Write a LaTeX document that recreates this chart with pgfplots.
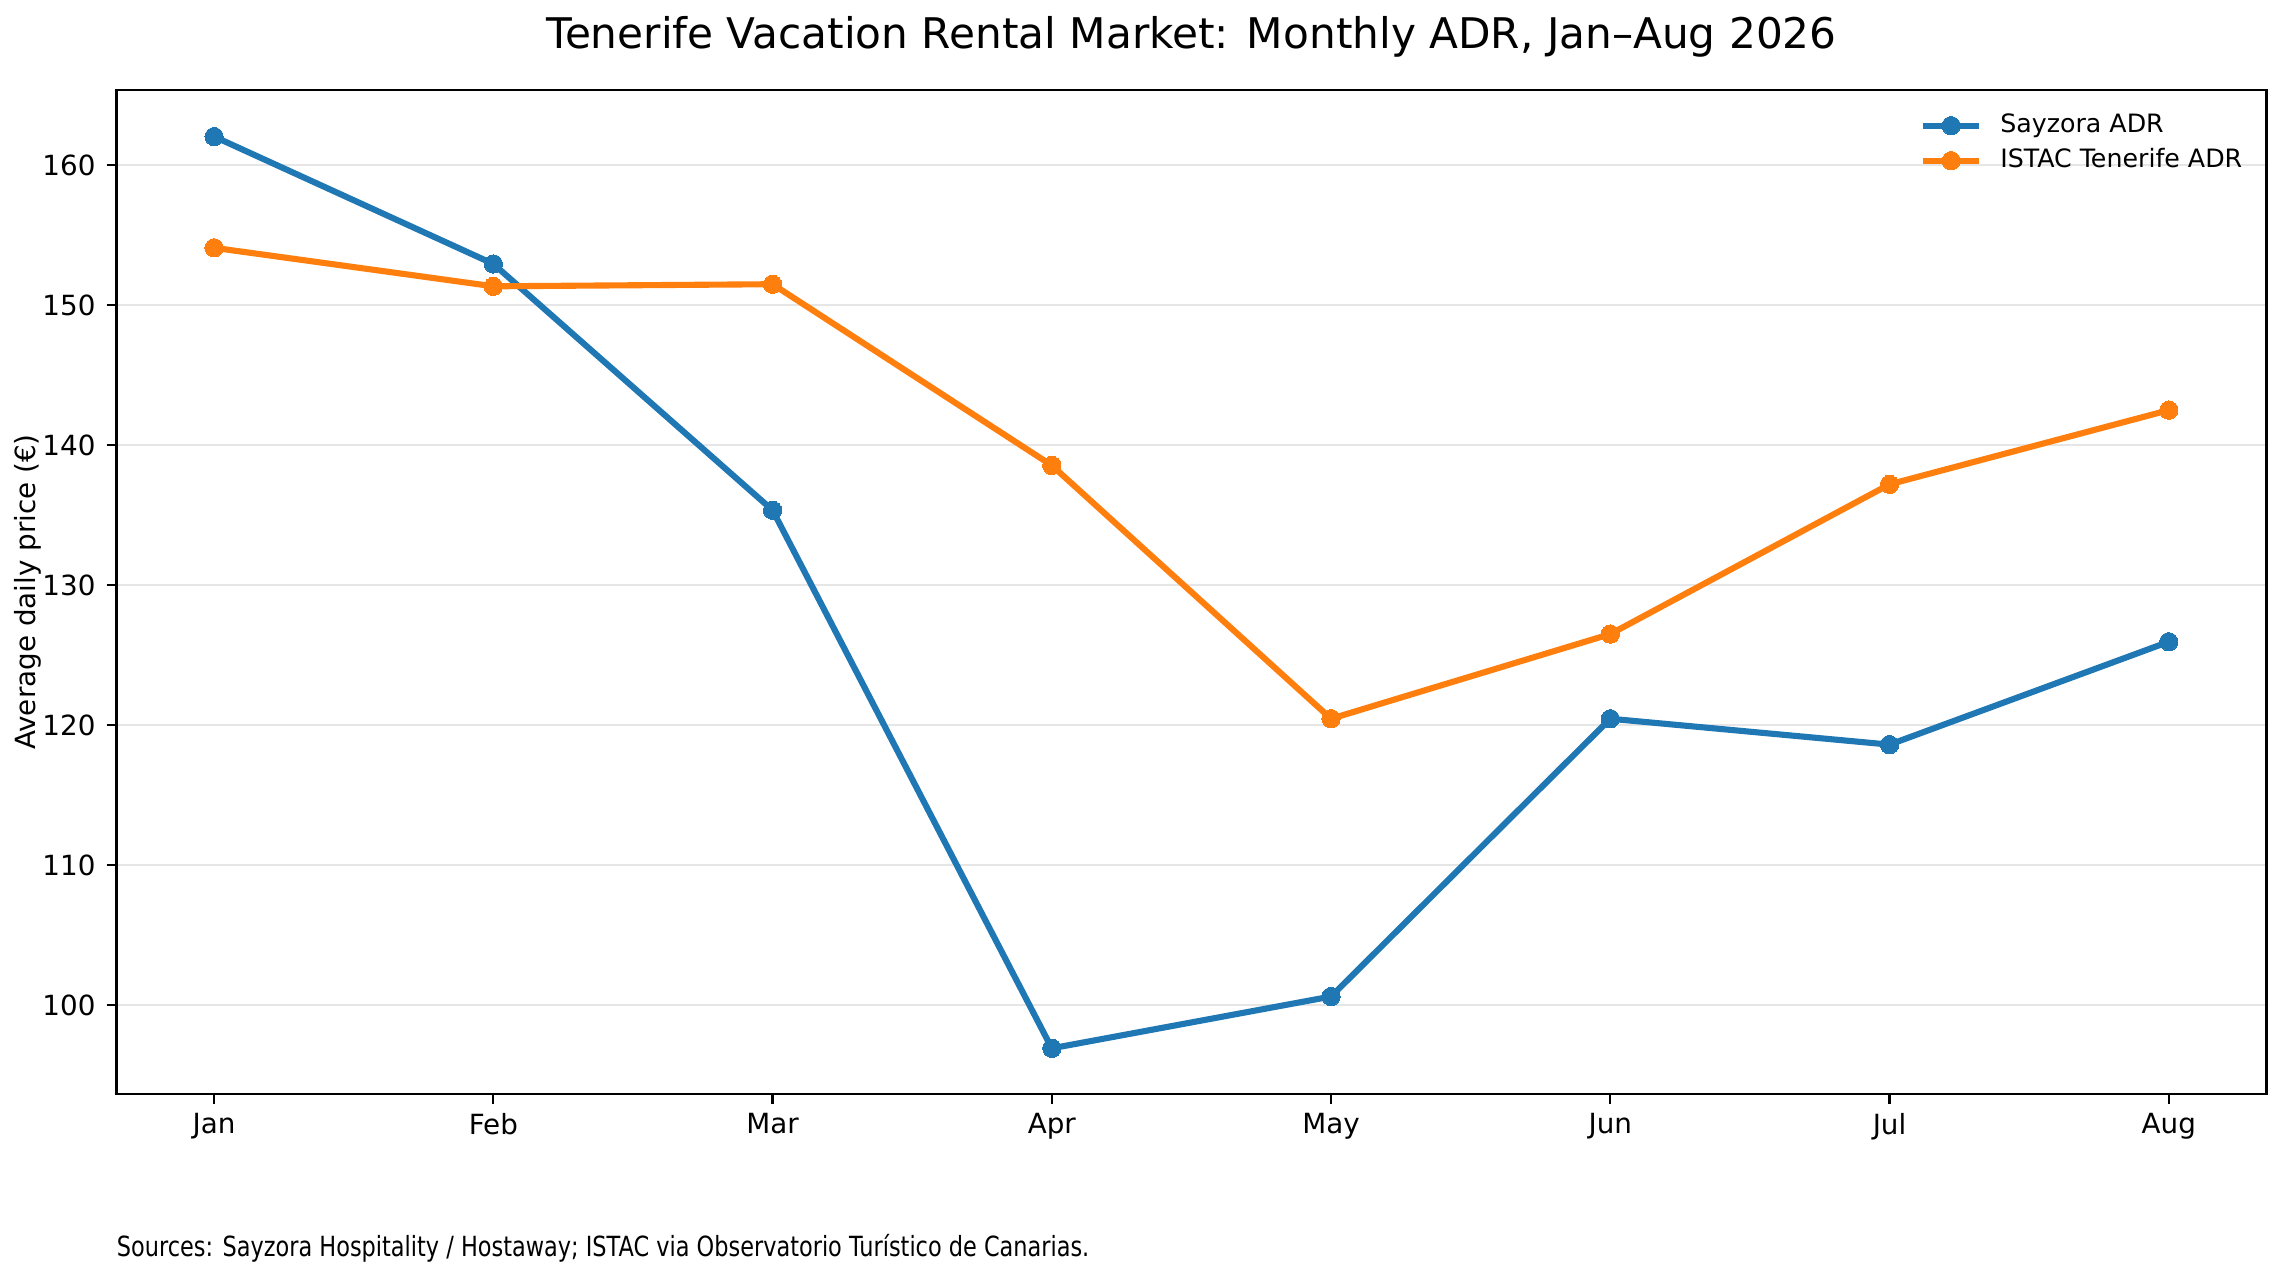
\documentclass[border=0pt]{standalone}
\usepackage{pgfplots}
\pgfplotsset{compat=1.18}
\usepackage{fontspec}
\usepackage{graphicx}
\setmainfont{DejaVu Sans}
\definecolor{tabblue}{RGB}{31,119,180}
\definecolor{taborange}{RGB}{255,127,14}
\definecolor{gridgray}{RGB}{230,230,230}
\begin{document}
\begin{tikzpicture}
\path[use as bounding box] (-41.9pt,-65.9pt) rectangle (780.3pt,393.8pt);
\begin{axis}[
  at={(0,0)}, anchor=south west,
  scale only axis, width=774pt, height=361.3pt,
  xmin=-0.35, xmax=7.35, ymin=93.64, ymax=165.36,
  xtick={0,1,2,3,4,5,6,7},
  xticklabels={Jan,Feb,Mar,Apr,May,Jun,Jul,Aug},
  ytick={100,110,120,130,140,150,160},
  xtick pos=bottom, ytick pos=left,
  tick align=outside,
  major tick length=3.5pt,
  every tick/.style={black, line width=0.8pt},
  axis line style={black, line width=0.8pt},
  ymajorgrids,
  grid style={gridgray, line width=0.8pt},
  /pgf/number format/assume math mode=true,
  tick label style={font=\fontsize{10}{12}\selectfont},
  yticklabel style={xshift=-0.5pt},
  ylabel={Average daily price (€)},
  every axis y label/.style={at={(axis description cs:0,0.5)}, xshift=-31.9pt, rotate=90, anchor=center, font=\fontsize{10}{12}\selectfont},
  legend style={at={(rel axis cs:1,1)}, anchor=north east, xshift=-8.5pt, yshift=-8pt,
    draw=none, fill=none, inner sep=0pt, font=\fontsize{9.1}{11}\selectfont,
    nodes={inner sep=0pt, text height=6.9pt, text depth=2.2pt},
    row sep=3.5pt},
  legend cell align=left,
  /tikz/every odd column/.append style={column sep=6.6pt},
  legend image code/.code={
    \draw[#1, mark=none] (0pt,0pt) -- (20pt,0pt);
    \draw[#1, only marks] plot coordinates {(10pt,0pt)};
  },
]
\addplot[tabblue, line width=2.2pt, mark=*, mark size=3.3pt, mark options={solid, fill=tabblue, draw=tabblue, line width=0pt}]
  coordinates {(0,162.05) (1,152.95) (2,135.35) (3,96.9) (4,100.6) (5,120.45) (6,118.6) (7,125.95)};
\addlegendentry{Sayzora ADR}
\addplot[taborange, line width=2.2pt, mark=*, mark size=3.3pt, mark options={solid, fill=taborange, draw=taborange, line width=0pt}]
  coordinates {(0,154.1) (1,151.35) (2,151.5) (3,138.55) (4,120.45) (5,126.5) (6,137.2) (7,142.5)};
\addlegendentry{ISTAC Tenerife ADR}
\end{axis}
\node[font=\fontsize{15.2}{18}\selectfont, anchor=center] at (387pt,380.7pt) {Tenerife Vacation Rental Market: Monthly ADR, Jan–Aug 2026};
\node[anchor=west, inner sep=0pt, font=\fontsize{10}{12}\selectfont] at (0pt,-55.5pt) {\resizebox{350pt}{\height}{Sources: Sayzora Hospitality / Hostaway; ISTAC via Observatorio Turístico de Canarias.}};
\end{tikzpicture}
\end{document}
